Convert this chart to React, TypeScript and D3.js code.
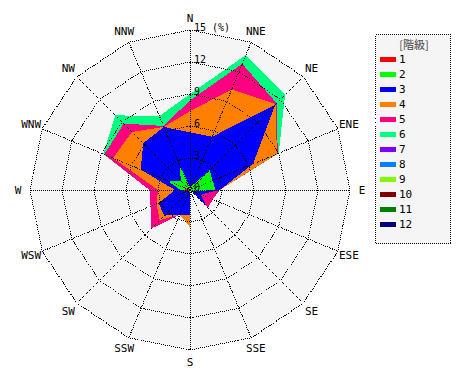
import React from "react";
import * as d3 from "d3";

const directions = ["N","NNE","NE","ENE","E","ESE","SE","SSE","S","SSW","SW","WSW","W","WNW","NW","NNW"];
const classNames = ["1","2","3","4","5","6","7","8","9","10","11","12"];
const classColors = ["#ff0000","#00ff00","#0000ff","#ff8000","#ff0080","#00ff80","#8000ff","#0080ff","#80ff00","#800000","#008000","#000080"];
const ringTicks = [0, 3, 6, 9, 12, 15];

// frequency (%) per class, per direction (N, NNE, ... NNW)
const class1 = [0.1,0.1,0.1,0.1,0.1,0.1,0.1,0,0.1,0.1,0.1,0.3,0.9,0.2,0.1,0.1];
const class2 = [0.2,0.3,2.5,2.2,2.3,0.2,0.1,0,0.1,0.1,0.1,0,0,2.1,1.1,2.5];
const class3 = [5.1,5.0,8.7,4.1,0.4,0.8,2.1,0,2.1,2.3,3.2,2.9,0.5,2.7,5.0,3.8];
const class4 = [2.0,4.8,0.1,2.4,0,0,0,0,1.2,0,0.6,0.2,1.6,2.8,1.5,0];
const class5 = [1.0,2.6,0.1,0.1,0,1.2,0.1,0,0,0,1.1,0.6,0.8,0.9,1.1,0.1];
const class6 = [0.6,0.9,1.1,0.1,0,0,0,0,0,0,0,0,0,0.1,1.1,1.0];
const class7 = [0,0,0,0,0,0,0,0,0,0,0,0,0,0,0,0];
const class8 = [0,0,0,0,0,0,0,0,0,0,0,0,0,0,0,0];
const class9 = [0,0,0,0,0,0,0,0,0,0,0,0,0,0,0,0];
const class10 = [0,0,0,0,0,0,0,0,0,0,0,0,0,0,0,0];
const class11 = [0,0,0,0,0,0,0,0,0,0,0,0,0,0,0,0];
const class12 = [0,0,0,0,0,0,0,0,0,0,0,0,0,0,0,0];
const classValues = [class1,class2,class3,class4,class5,class6,class7,class8,class9,class10,class11,class12];

const W = 470, H = 380;
const cx = 190, cy = 190, R = 160;
const font = "'DejaVu Sans Mono', monospace";

export default function App() {
  const r = d3.scaleLinear().domain([0, 15]).range([0, R]);
  const angle = d3.scaleLinear().domain([0, directions.length]).range([0, 2 * Math.PI]);

  // cumulative per class
  const cumulative: number[][] = [];
  classValues.forEach((vals, ci) => {
    cumulative.push(vals.map((v, di) => v + (ci > 0 ? cumulative[ci - 1][di] : 0)));
  });

  const radial = d3.lineRadial<number>()
    .angle((_, i) => angle(i))
    .radius((d) => r(d))
    .curve(d3.curveLinearClosed);

  const ring = (v: number) => radial(directions.map(() => v)) as string;

  const pt = (i: number, rad: number) => {
    const a = angle(i);
    return [cx + rad * Math.sin(a), cy - rad * Math.cos(a)];
  };

  return (
    <svg width={W} height={H} style={{ position: "absolute", left: 0, top: 0, background: "#fff" }}
      fontFamily={font}>
      <g transform={`translate(${cx},${cy})`}>
        <path d={ring(15)} fill="#f5f5f5" />
        {cumulative.map((vals, ci) => ci).reverse().map((ci) => (
          <path key={ci} d={radial(cumulative[ci]) as string} fill={classColors[ci]}
            shapeRendering="crispEdges" />
        ))}
        {ringTicks.filter((t) => t > 0).map((t) => (
          <path key={t} d={ring(t)} fill="none" stroke="#000" strokeDasharray="1,1" strokeWidth={1}
            shapeRendering="crispEdges" />
        ))}
        {directions.map((d, i) => {
          const [x, y] = pt(i, R);
          return <line key={d} x1={0} y1={0} x2={x - cx} y2={y - cy} stroke="#000"
            strokeDasharray="1,1" shapeRendering="crispEdges" />;
        })}
      </g>
      {ringTicks.map((t) => (
        <text key={t} x={cx + 4} y={cy - r(t) + 1} fontSize={10} fill="#000">
          {t === 15 ? "15 (%)" : String(t)}
        </text>
      ))}
      {directions.map((d, i) => {
        const [x, y] = pt(i, R + 12);
        return (
          <text key={d} x={x} y={y} textAnchor="middle" dominantBaseline="central" fontSize={11} fill="#000">
            {d}
          </text>
        );
      })}
      <g>
        <rect x={375.5} y={34.5} width={75} height={209} fill="#f5f5f5" stroke="#000"
          strokeDasharray="1,1" shapeRendering="crispEdges" />
        <text x={414} y={44} textAnchor="middle" dominantBaseline="central" fontSize={11} fill="#444"
          fontFamily="'Noto Sans CJK JP', sans-serif">[階級]</text>
        {classNames.map((c, i) => (
          <g key={c} transform={`translate(0,${59.5 + i * 15})`}>
            <rect x={380} y={-2.5} width={16} height={5} fill={classColors[i]} />
            <text x={399} y={0} dominantBaseline="central" fontSize={11} fill="#000">{c}</text>
          </g>
        ))}
      </g>
    </svg>
  );
}
